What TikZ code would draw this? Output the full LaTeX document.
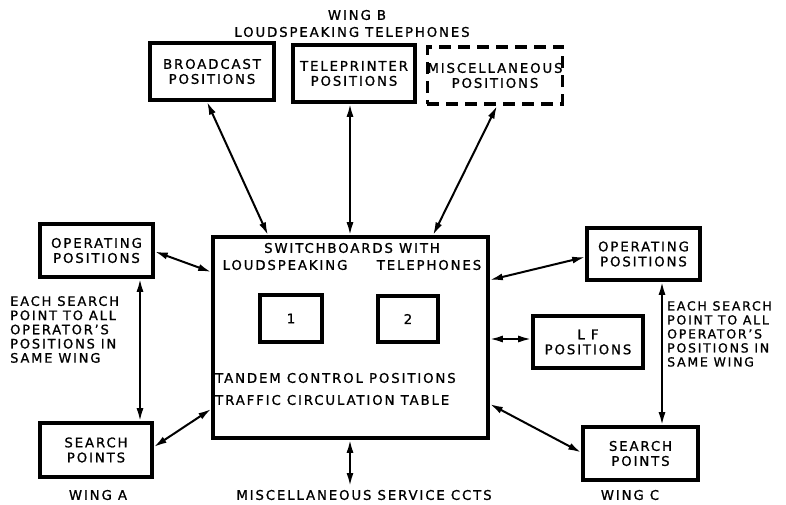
\documentclass[tikz,border=0pt]{standalone}
\usepackage{fontspec}
\setmainfont{DejaVu Sans}[LetterSpace=14,FakeBold=1]
\usetikzlibrary{arrows.meta,calc}
\newcommand\diaglbl{\fontsize{13.3}{15}\selectfont}
\begin{document}
\begin{tikzpicture}[x=1pt,y=1pt,
  box/.style={draw,line width=3.6pt,align=center,inner sep=0pt,font=\diaglbl},
  dbox/.style={box,dash pattern=on 12pt off 7pt},
  conn/.style={{Latex[length=13pt,width=7pt]}-{Latex[length=13pt,width=7pt]},line width=2pt},
  txt/.style={font=\diaglbl,inner sep=0pt,align=left}]
\useasboundingbox (0,0) rectangle (786,504);
% boxes
\node[box,minimum width=124pt,minimum height=57pt] (bc) at (212,432.5) {BROADCAST\\POSITIONS};
\node[box,minimum width=122pt,minimum height=57pt] (tp) at (354,430.5) {TELEPRINTER\\POSITIONS};
\node[dbox,minimum width=130pt,minimum height=57pt] (misc) at (495,428.5) {MISCELLANEOUS\\POSITIONS};
\node[box,minimum width=275pt,minimum height=201pt] (main) at (350.5,166.5) {};
\node[box,minimum width=113pt,minimum height=53pt] (opL) at (96.5,253.5) {OPERATING\\POSITIONS};
\node[box,minimum width=112pt,minimum height=54pt] (spL) at (96,54) {SEARCH\\POINTS};
\node[box,minimum width=113pt,minimum height=52pt] (opR) at (643.5,250) {OPERATING\\POSITIONS};
\node[box,minimum width=110pt,minimum height=52pt] (lf) at (588,162) {L F\\POSITIONS};
\node[box,minimum width=115pt,minimum height=53pt] (spR) at (640.5,50.5) {SEARCH\\POINTS};
\node[box,minimum width=62pt,minimum height=47pt] (b1) at (291,185.5) {1};
\node[box,minimum width=60pt,minimum height=46pt] (b2) at (408,185) {2};
% texts
\node[txt] (wingb) at (357,489) {WING B};
\node[txt] (lst) at (352,472) {LOUDSPEAKING TELEPHONES};
\node[txt] (sw) at (352,256) {SWITCHBOARDS WITH};
\node[txt] (ls) at (285,239) {LOUDSPEAKING};
\node[txt] (te) at (429,239) {TELEPHONES};
\node[txt,anchor=west] (tc) at (215,126) {TANDEM CONTROL POSITIONS};
\node[txt,anchor=west] (tr) at (215,104) {TRAFFIC CIRCULATION TABLE};
\node[txt,anchor=north west,font=\fontsize{13}{14.2}\selectfont] (annL) at (10,208) {EACH SEARCH\\POINT TO ALL\\OPERATOR'S\\POSITIONS IN\\SAME WING};
\node[txt,anchor=north west,font=\fontsize{12.5}{14}\selectfont] (annR) at (667,203) {EACH SEARCH\\POINT TO ALL\\OPERATOR'S\\POSITIONS IN\\SAME WING};
\node[txt] (winga) at (98,9) {WING A};
\node[txt] (mss) at (364,9) {MISCELLANEOUS SERVICE CCTS};
\node[txt] (wingc) at (630,9) {WING C};
\coordinate (msend) at (350,18);
% connectors
\draw[conn] ([xshift=-5pt]bc.south) -- ([xshift=-82.5pt]main.north);
\draw[conn] ([xshift=-4pt]tp.south) -- ([xshift=-0.5pt]main.north);
\draw[conn] ([xshift=2pt]misc.south) -- ([xshift=82.5pt]main.north);
\draw[conn] ([yshift=-1pt]opL.east) -- ([yshift=65.5pt]main.west);
\draw[conn] ([yshift=3pt]spL.east) -- ([yshift=-71.5pt]main.west);
\draw[conn] ([yshift=-3pt]opR.west) -- ([yshift=57.5pt]main.east);
\draw[conn] ([yshift=3pt]lf.west) -- ([yshift=-1.5pt]main.east);
\draw[conn] ([yshift=1pt]spR.west) -- ([yshift=-66.5pt]main.east);
\draw[conn] ([xshift=43.5pt]opL.south) -- ([xshift=44pt]spL.north);
\draw[conn] ([xshift=18.5pt]opR.south) -- ([xshift=21.5pt]spR.north);
\draw[conn] (main.south -| msend) -- (msend);
\end{tikzpicture}
\end{document}
